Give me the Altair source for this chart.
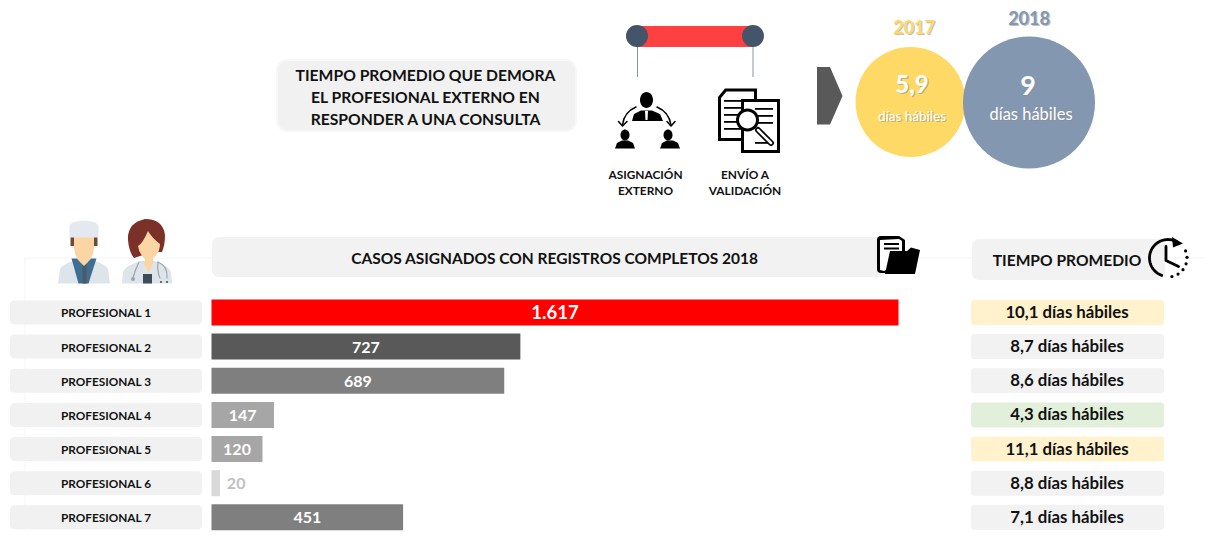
import re, math
import altair as alt
import pandas as pd

# ---------- data ----------
profesionales = ["PROFESIONAL 1", "PROFESIONAL 2", "PROFESIONAL 3", "PROFESIONAL 4",
                 "PROFESIONAL 5", "PROFESIONAL 6", "PROFESIONAL 7"]
casos = [1617, 727, 689, 147, 120, 20, 451]
casos_txt = ["1.617", "727", "689", "147", "120", "20", "451"]
tiempos = ["10,1 días hábiles", "8,7 días hábiles", "8,6 días hábiles", "4,3 días hábiles",
           "11,1 días hábiles", "8,8 días hábiles", "7,1 días hábiles"]
bar_colors = ["#ff0000", "#595959", "#7f7f7f", "#a6a6a6", "#a6a6a6", "#d9d9d9", "#7f7f7f"]
lab_colors = ["#ffffff", "#ffffff", "#ffffff", "#ffffff", "#ffffff", "#bfbfbf", "#ffffff"]
lab_sizes = [18.5, 16, 16, 16, 16, 16, 16]
tiempo_bg = ["#fff2cc", "#f2f2f2", "#f2f2f2", "#e2efda", "#fff2cc", "#f2f2f2", "#f2f2f2"]
titulo_lineas = ["TIEMPO PROMEDIO QUE DEMORA", "EL PROFESIONAL EXTERNO EN", "RESPONDER A UNA CONSULTA"]

df = pd.DataFrame({"prof": profesionales, "casos": casos, "txt": casos_txt, "tiempo": tiempos,
                   "bar": bar_colors, "lab": lab_colors, "fs": lab_sizes, "bg": tiempo_bg})

FONT = "Lato"
W, H = 1197, 523
one = alt.Data(values=[{"k": 1}])


def box(x0, y0, x1, y1, color, r=0, op=1):
    return alt.Chart(one).mark_rect(color=color, cornerRadius=r, opacity=op).encode(
        x=alt.value(x0 - 8), x2=alt.value(x1 - 8), y=alt.value(y0 - 8), y2=alt.value(y1 - 8))


def txt(s, x, y, size, color="#111111", weight=700, op=1):
    return alt.Chart(one).mark_text(text=s, font=FONT, fontSize=size, fontWeight=weight, color=color,
                                    align="center", baseline="middle", opacity=op).encode(
        x=alt.value(x - 8), y=alt.value(y - 8 + 1.5))


def shadow_txt(s, x, y, size, color, weight=700):
    return [txt(s, x + 1.2, y + 1.2, size, "#8c8c8c", weight, 0.55), txt(s, x, y, size, color, weight)]


def dot(x, y, r, color):
    return alt.Chart(one).mark_circle(color=color, size=(2 * r) ** 2, opacity=1).encode(
        x=alt.value(x - 8), y=alt.value(y - 8))


def shape(d, color, stroke=None):
    """Path written in page pixels -> unit symbol path, placed by its own centre."""
    parts = re.findall(r"[MLCQZ]|-?\d+\.?\d*", d)
    xs, ys, i = [], [], 0
    for p in parts:
        if p in "MLCQZ":
            continue
        (ys if i % 2 else xs).append(float(p))
        i += 1
    cx, cy = (min(xs) + max(xs)) / 2, (min(ys) + max(ys)) / 2
    half = max(max(xs) - min(xs), max(ys) - min(ys), 1) / 2
    out, i = [], 0
    for p in parts:
        if p in "MLCQZ":
            out.append(p)
        else:
            v = (float(p) - (cy if i % 2 else cx)) / half
            out.append(f"{v:.4f}" + ("," if i % 2 == 0 else " "))
            i += 1
    path = "".join(out)
    size = (2 * half) ** 2
    if stroke:
        m = alt.Chart(one).mark_point(shape=path, size=size, filled=False, stroke=color, strokeWidth=stroke,
                                      opacity=1, strokeCap="round", strokeJoin="round")
    else:
        m = alt.Chart(one).mark_point(shape=path, size=size, filled=True, fill=color, strokeWidth=0, opacity=1)
    return m.encode(x=alt.value(cx - 8), y=alt.value(cy - 8))


def ell(cx, cy, rx, ry):
    k = 0.5523
    return (f"M{cx - rx} {cy} C{cx - rx} {cy - k * ry} {cx - k * rx} {cy - ry} {cx} {cy - ry} "
            f"C{cx + k * rx} {cy - ry} {cx + rx} {cy - k * ry} {cx + rx} {cy} "
            f"C{cx + rx} {cy + k * ry} {cx + k * rx} {cy + ry} {cx} {cy + ry} "
            f"C{cx - k * rx} {cy + ry} {cx - rx} {cy + k * ry} {cx - rx} {cy} Z")


def rc(x0, y0, x1, y1):
    return f"M{x0} {y0} L{x1} {y0} L{x1} {y1} L{x0} {y1} Z"


def arc(cx, cy, r, a0, a1, n=40):
    pts = [(cx + r * math.cos(math.radians(a0 + (a1 - a0) * i / n)),
            cy + r * math.sin(math.radians(a0 + (a1 - a0) * i / n))) for i in range(n + 1)]
    return "M" + " L".join(f"{x:.2f} {y:.2f}" for x, y in pts)


layers = []

# faint guide lines
layers += [box(25, 257.5, 1213, 258.5, "#f6f6f6"), box(24.5, 258, 25.5, 539, "#f6f6f6")]

# title box
layers += [box(276, 59, 577, 132, "#f7f7f7", 11), box(278, 61, 575, 130, "#f1f1f1", 10)]
for s, y in zip(titulo_lineas, [74, 96, 118]):
    layers.append(txt(s, 425.5, y, 15.7))

# timeline
NAVY = "#44546a"
layers += [box(637, 26, 753, 47, "#ff4040"),
           box(637, 47, 638, 77, "#8a94a6"), box(752.5, 47, 753.5, 77, "#8a94a6"),
           dot(637, 36, 11, NAVY), dot(753, 36, 11, NAVY)]

# assignment icon
K = "#000000"
layers += [shape(ell(646.5, 100, 6.5, 8), K),
           shape("M632 121 L634 114 L641 110.5 L652 110.5 L660 114 L663 121 Z", K),
           shape("M645 111 L648 111 L647.5 120 L645.5 120 Z", "#ffffff"),
           shape(ell(625, 135, 4.5, 5.5), K),
           shape("M615 148.5 L617 143 L622 140.5 L628 140.5 L633 143 L635 148.5 Z", K),
           shape(ell(668, 135, 4.5, 5.5), K),
           shape("M660 148.5 L662 143 L667 140.5 L673 140.5 L678 143 L680 148.5 Z", K),
           shape("M636 107 Q624 112 622.5 125", K, 1.5),
           shape("M618.5 121.5 L622.5 126 L627 121.5", K, 1.5),
           shape("M657 107 Q669 112 671 125", K, 1.5),
           shape("M667 121.5 L671 126 L675 121.5", K, 1.5)]

# validation document icon
layers += [shape("M718 97 L725 88.5 L757 88.5 L757 141 L718 141 Z", K),
           shape("M721 98 L726.5 91.5 L754 91.5 L754 138 L721 138 Z", "#ffffff")]
for y in [100, 107, 114, 121, 128]:
    layers.append(box(724, y, 745, y + 1.8, K))
layers += [shape(rc(741, 99, 780, 153), K), shape(rc(744, 102, 777, 150), "#ffffff")]
for y in [108, 115, 122, 142]:
    layers.append(box(755, y, 773, y + 1.8, K))
layers += [shape("M758 130 L771 143", K, 6), shape("M758 130 L771 143", "#ffffff", 2.5),
           shape(ell(747.5, 120, 11.5, 11.5), K), shape(ell(747.5, 120, 8.5, 8.5), "#ffffff")]

for s, x, y in [("ASIGNACIÓN", 645.5, 173), ("EXTERNO", 645.5, 189), ("ENVÍO A", 745, 173), ("VALIDACIÓN", 745, 189)]:
    layers.append(txt(s, x, y, 11.9))

# arrow
layers.append(shape("M817 67 L830 67 L842.5 96 L830 124.5 L817 124.5 Z", "#595959"))

# comparison circles
layers += [dot(910.5, 102, 55, "#ffd966"), dot(1029, 102.5, 66, "#8497b0")]
layers += shadow_txt("2017", 914, 27, 18, "#ffd966")
layers += shadow_txt("2018", 1029, 18, 18, "#8497b0")
layers += shadow_txt("5,9", 912, 84, 24, "#ffffff")
layers += shadow_txt("días hábiles", 912, 115.5, 13.5, "#ffffff", 400)
layers += shadow_txt("9", 1028, 85, 27, "#ffffff")
layers += shadow_txt("días hábiles", 1031, 113, 16.5, "#ffffff", 400)

# doctors
SKIN, COAT = "#fcd5a5", "#dde5eb"
layers += [shape("M58 283.5 L60 269 Q63 264 72 261.5 L96 261.5 Q105 264 108 269 L110 283.5 Z", COAT),
           shape("M71.5 258.5 L96.5 258.5 L88.5 283.5 L78.5 283.5 Z", "#3e6f93"),
           box(82.5, 264, 86.5, 283.5, "#4d5a63"),
           box(70.5, 236, 74.5, 246, "#6b4a3a"), box(93.5, 236, 97.5, 246, "#6b4a3a"),
           shape("M74 236 L94 236 L94 248 Q93 258 88 262 L84 266 L80 262 Q75 258 74 248 Z", SKIN),
           shape("M69.5 237.5 L69.5 226 Q71 221 84 220.5 Q97 221 98.5 226 L98.5 237.5 Z", "#e3e9ee")]
layers += [shape("M122 283.5 L123 272 Q126 265 141 261 L154 261 Q168 265 171 272 L172 283.5 Z", COAT),
           shape("M128 240 Q127 223 145 219 Q163 219 165 235 Q165 245 162 252 L154 252 L140 256 L134 258 Q129 252 128 240 Z", "#7b3028"),
           shape("M138 246 Q143 243 148 231 Q152 238 160 244 Q160 253 153 258 L153 264 L145 264 L145 259 Q139 254 138 246 Z", SKIN),
           shape("M143 262 L153 262 L149 273 Z", SKIN),
           box(143, 274, 152, 283.5, "#3f4a5c"),
           shape("M139 262 Q135 270 133 278", "#9aa5ad", 1.2),
           dot(133, 279, 2, "#9aa5ad"),
           shape("M158 262 Q168 266 167 278", "#9aa5ad", 1.2),
           shape("M158 262 Q157 272 160 278", "#9aa5ad", 1.2),
           dot(161, 282, 0.9, "#333333"), dot(167, 282, 0.9, "#333333")]

# section headers
layers += [box(212, 237, 885, 277, "#f2f2f2", 7),
           txt("CASOS ASIGNADOS CON REGISTROS COMPLETOS 2018", 554.5, 257, 15.5),
           box(972, 239, 1165, 280, "#f2f2f2", 7),
           txt("TIEMPO PROMEDIO", 1067, 259.5, 15.6)]

# folder icon
layers += [shape("M877 240 Q877 236 881 236 L899 236 L905 240 L905 273 L881 273 Q877 273 877 269 Z", K),
           shape("M880 240 L899 239 L902 241 L902 262 L884 271 L880 270 Z", "#ffffff"),
           box(884, 243, 899, 245, K), box(884, 247.5, 899, 249.5, K),
           shape("M885 274 L890 251 L907 251 L911 247.5 L920 250 L915 274 Z", K)]

# clock icon
layers += [shape(arc(1168, 258, 18.5, -62, -250), K, 2.8),
           shape("M1172 237 L1183 243.5 L1173 247.5 Z", K),
           shape("M1166 246.5 L1166 260.5 L1178.5 266.5", K, 2.8)]
for a in [-22, -2, 18, 38, 58, 78]:
    layers.append(dot(1168 + 19 * math.cos(math.radians(a)), 258 + 19 * math.sin(math.radians(a)), 1.6, K))

# rows: band scale for professionals, linear scale for cases
y_enc = alt.Y("prof:N", axis=None, sort=profesionales,
              scale=alt.Scale(type="band", domain=profesionales, range=[287.4, 526.4],
                              paddingInner=0.24, paddingOuter=0.12))
x_scale = alt.Scale(domain=[0, 1617], range=[203.5, 890.5])
row = alt.Chart(df)

layers.append(row.mark_bar(color="#f1f1f1", cornerRadius=4, size=24).encode(
    y=y_enc, x=alt.value(10 - 8), x2=alt.value(202 - 8)))
layers.append(row.mark_text(font=FONT, fontSize=11.8, fontWeight=700, color="#111111", baseline="middle", dy=1).encode(
    y=y_enc, x=alt.value(106 - 8), text="prof:N"))
layers.append(row.mark_bar(size=26, opacity=1).encode(
    y=y_enc, x=alt.X("casos:Q", scale=x_scale, axis=None), x2=alt.datum(0),
    color=alt.Color("bar:N", scale=None)))
layers.append(row.transform_calculate(pos="datum.casos < 50 ? 58 : datum.casos / 2").mark_text(
    font=FONT, fontWeight=700, baseline="middle", dy=1).encode(
    y=y_enc, x=alt.X("pos:Q", scale=x_scale, axis=None), text="txt:N",
    size=alt.Size("fs:Q", scale=None), color=alt.Color("lab:N", scale=None)))
layers.append(row.mark_bar(cornerRadius=3, size=25).encode(
    y=y_enc, x=alt.value(971 - 8), x2=alt.value(1164 - 8), color=alt.Color("bg:N", scale=None)))
layers.append(row.mark_text(font=FONT, fontSize=16.8, fontWeight=700, color="#111111", baseline="middle", dy=0.5).encode(
    y=y_enc, x=alt.value(1067 - 8), text="tiempo:N"))

chart = alt.layer(*layers).properties(
    width=W, height=H, padding=0, autosize=alt.AutoSizeParams(type="none"), background="#ffffff"
).configure_view(stroke=None)

chart.save("out.html", embed_options={"renderer": "svg", "actions": False})
